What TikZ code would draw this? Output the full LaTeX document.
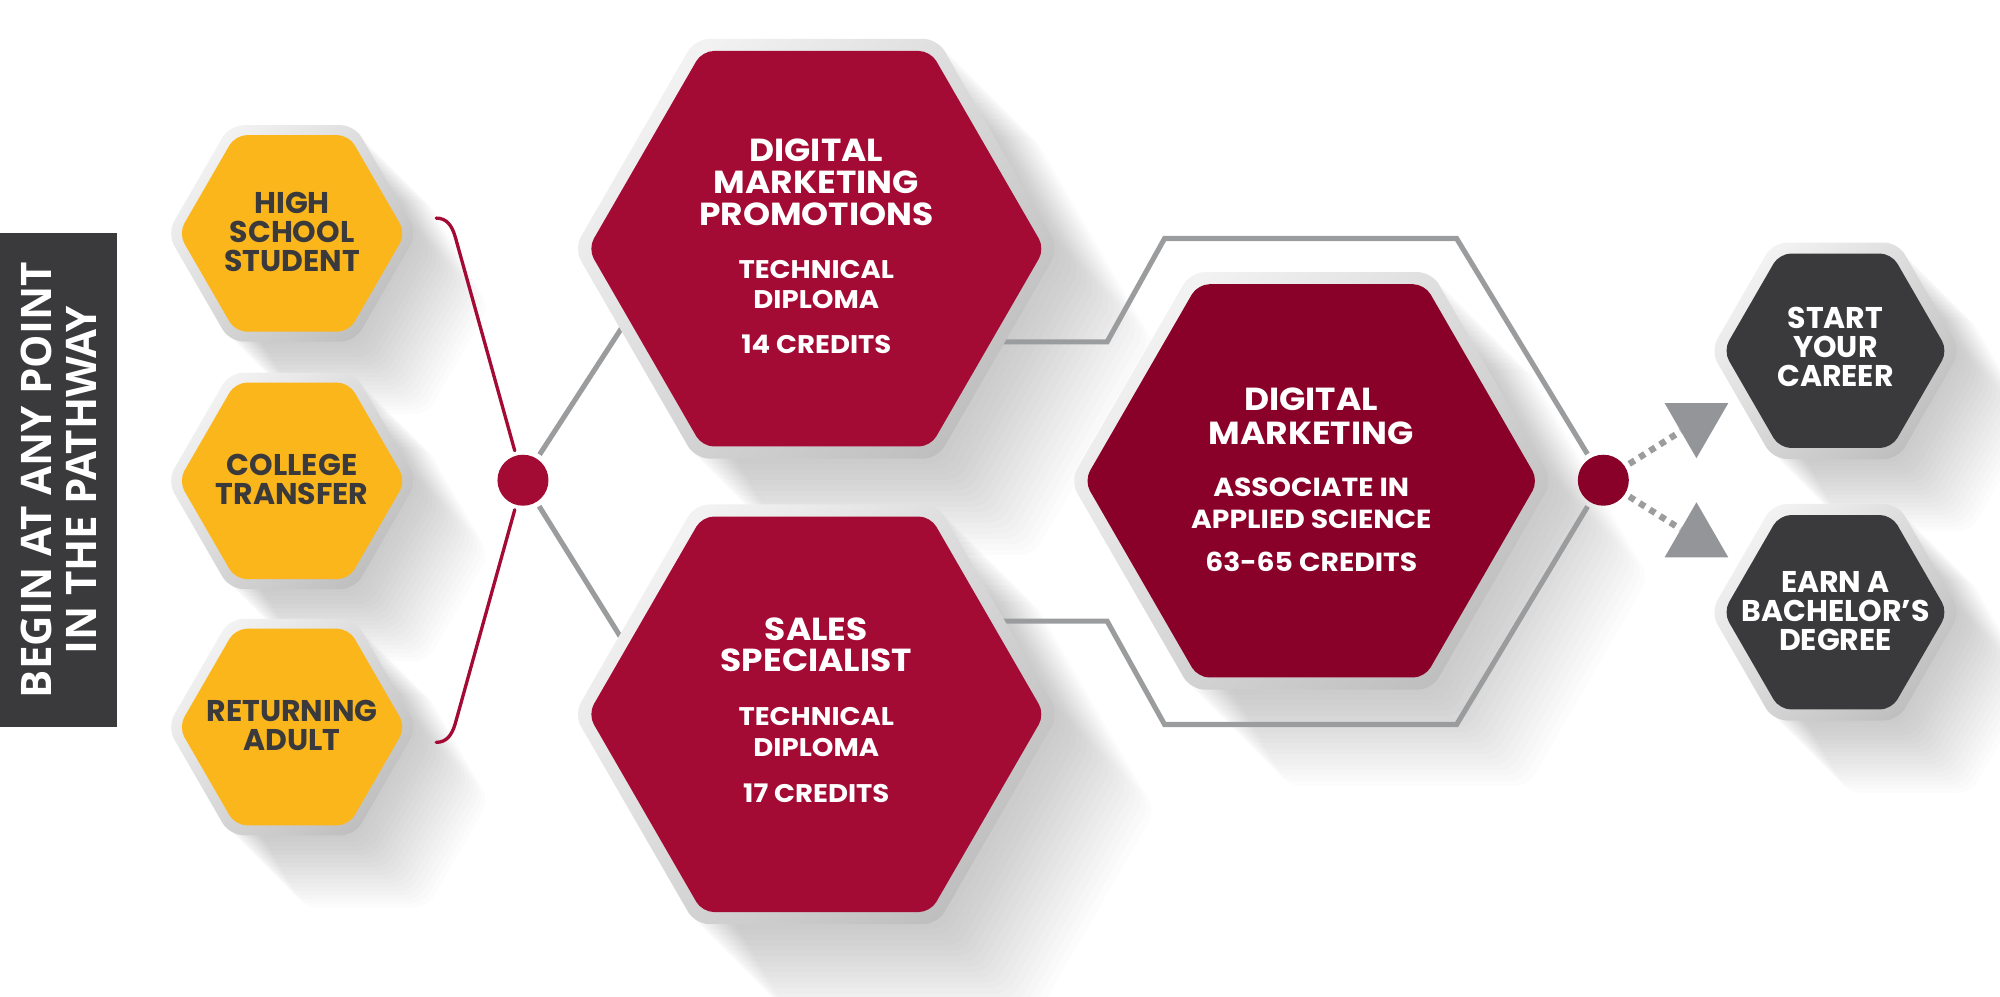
\documentclass[tikz,border=0pt]{standalone}
\usepackage{fontspec}
\setmainfont{Poppins}
\newfontfamily\widefont[FakeStretch=1.08]{Poppins}
\newfontfamily\pathfont{Open Sans}
\usetikzlibrary{shapes.geometric}

\definecolor{hexyellow}{HTML}{FBB61B}
\definecolor{hexred}{HTML}{A30A34}
\definecolor{hexwine}{HTML}{890029}
\definecolor{hexdark}{HTML}{3A3A3C}
\definecolor{linegray}{HTML}{9B9C9E}
\definecolor{tipgray}{HTML}{939598}

\newcommand\hexshadow[3]{%
  \foreach \k in {1,...,18}
    \fill[black, fill opacity=0.011, rounded corners=10pt]
      (#1) ++(\k*#3,\k*#3) ++(0:#2) -- ++(120:#2) -- ++(180:#2) -- ++(240:#2) -- ++(300:#2) -- ++(0:#2) -- cycle;
}

\begin{document}
\begin{tikzpicture}[x=1pt, y=-1pt,
  hex/.style={regular polygon, regular polygon sides=6, minimum size=#1pt},
  rim/.style={hex=#1, rounded corners=11pt, top color=black!5, bottom color=black!25, shading angle=45},
  face/.style={hex=#1, rounded corners=9pt},
  dot/.style={circle, minimum size=40pt, outer sep=4pt, fill=#1},
  tip/.style={regular polygon, regular polygon sides=3, minimum size=57.7pt, fill=tipgray},
  grayline/.style={draw=linegray, line width=4pt},
  dotline/.style={draw=linegray, line width=5pt, dash pattern=on 5pt off 4.5pt},
  bracket/.style={draw=hexred, line width=2.6pt, line cap=round},
  smalltext/.style={align=center, font=\bfseries\fontsize{23.5}{22.5}\selectfont},
  bigtitle/.style={align=center, text=white, font=\widefont\bfseries\fontsize{25}{25}\selectfont},
  bigsub/.style={align=center, text=white, font=\widefont\bfseries\fontsize{20}{24}\selectfont}]
\tikzstyle{every node}+=[inner sep=0pt]
\useasboundingbox (0,0) rectangle (1568,781);

\hexshadow{229,183}{97}{3.2}
\hexshadow{229,377}{97}{3.2}
\hexshadow{229,570}{97}{3.2}
\hexshadow{640,195}{190}{4.2}
\hexshadow{640,560}{190}{4.2}
\hexshadow{1028,377}{189}{4.2}
\hexshadow{1439,275}{97}{3.2}
\hexshadow{1439,480}{97}{3.2}

\node[dot=hexred] (join) at (410,376.5) {};
\node[dot=hexwine] (split) at (1257,376.5) {};
\node[tip, shape border rotate=180] (uptip) at (1330,330.4) {};
\node[tip] (downtip) at (1330,422.6) {};

\coordinate (promoin) at (492,250);
\coordinate (salesin) at (490,505);
\coordinate (promoout) at (780,268);
\coordinate (salesout) at (780,487);

\draw[bracket] (342,171) .. controls (350,171) and (354.3,176.5) .. (357,186) -- (join);
\draw[bracket] (join) -- (357,567) .. controls (354.3,576.5) and (350,582) .. (342,582);
\draw[grayline] (join) -- (promoin);
\draw[grayline] (join) -- (salesin);
\draw[grayline] (promoout) -- (868,268) -- (913,187) -- (1142,187) -- (split);
\draw[grayline] (split) -- (1142,568) -- (913,568) -- (868,487) -- (salesout);
\draw[dotline] (split) -- (uptip);
\draw[dotline] (split) -- (downtip);

\node[rim=196] (hsrim) at (229,183) {};
\node[face=178, fill=hexyellow] (hs) at (229,183) {};
\node[rim=196] (ctrim) at (229,377) {};
\node[face=178, fill=hexyellow] (ct) at (229,377) {};
\node[rim=196] (rarim) at (229,570) {};
\node[face=178, fill=hexyellow] (ra) at (229,570) {};
\node[rim=380] (promorim) at (640,195) {};
\node[face=358, fill=hexred] (promo) at (640,195) {};
\node[rim=380] (salesrim) at (640,560) {};
\node[face=358, fill=hexred] (sales) at (640,560) {};
\node[rim=378] (aasrim) at (1028,377) {};
\node[face=356, fill=hexwine] (aas) at (1028,377) {};
\node[rim=196] (careerrim) at (1439,275) {};
\node[face=176, fill=hexdark] (career) at (1439,275) {};
\node[rim=196] (bachrim) at (1439,480) {};
\node[face=176, fill=hexdark] (bach) at (1439,480) {};

\node[smalltext, text=hexdark] (hstext) at (229,182) {HIGH\\SCHOOL\\STUDENT};
\node[smalltext, text=hexdark] (cttext) at (229,376) {COLLEGE\\TRANSFER};
\node[smalltext, text=hexdark] (ratext) at (229,569) {RETURNING\\ADULT};
\node[bigtitle] (promotitle) at (640,143) {DIGITAL\\MARKETING\\PROMOTIONS};
\node[bigsub] (promosub) at (640,240.5) {TECHNICAL\\DIPLOMA\\[11pt]14 CREDITS};
\node[bigtitle] (salestitle) at (640,505.5) {SALES\\SPECIALIST};
\node[bigsub] (salessub) at (640,592) {TECHNICAL\\DIPLOMA\\[12pt]17 CREDITS};
\node[bigtitle, font=\widefont\bfseries\fontsize{25}{27}\selectfont] (aastitle) at (1028,326.5) {DIGITAL\\MARKETING};
\node[bigsub, font=\widefont\bfseries\fontsize{20.5}{25}\selectfont] (aassub) at (1028,411.5) {ASSOCIATE IN\\APPLIED SCIENCE\\[9pt]63-65 CREDITS};
\node[smalltext, text=white] (careertext) at (1439,272) {START\\YOUR\\CAREER};
\node[smalltext, text=white] (bachtext) at (1439,479) {EARN A\\BACHELOR’S\\DEGREE};

\node[fill=hexdark, rotate=90, minimum width=387pt, minimum height=92pt, align=center, text=white,
  font=\pathfont\bfseries\fontsize{33}{35}\selectfont] (pathway) at (46,376.5) {BEGIN AT ANY POINT\\IN THE PATHWAY};
\end{tikzpicture}
\end{document}
